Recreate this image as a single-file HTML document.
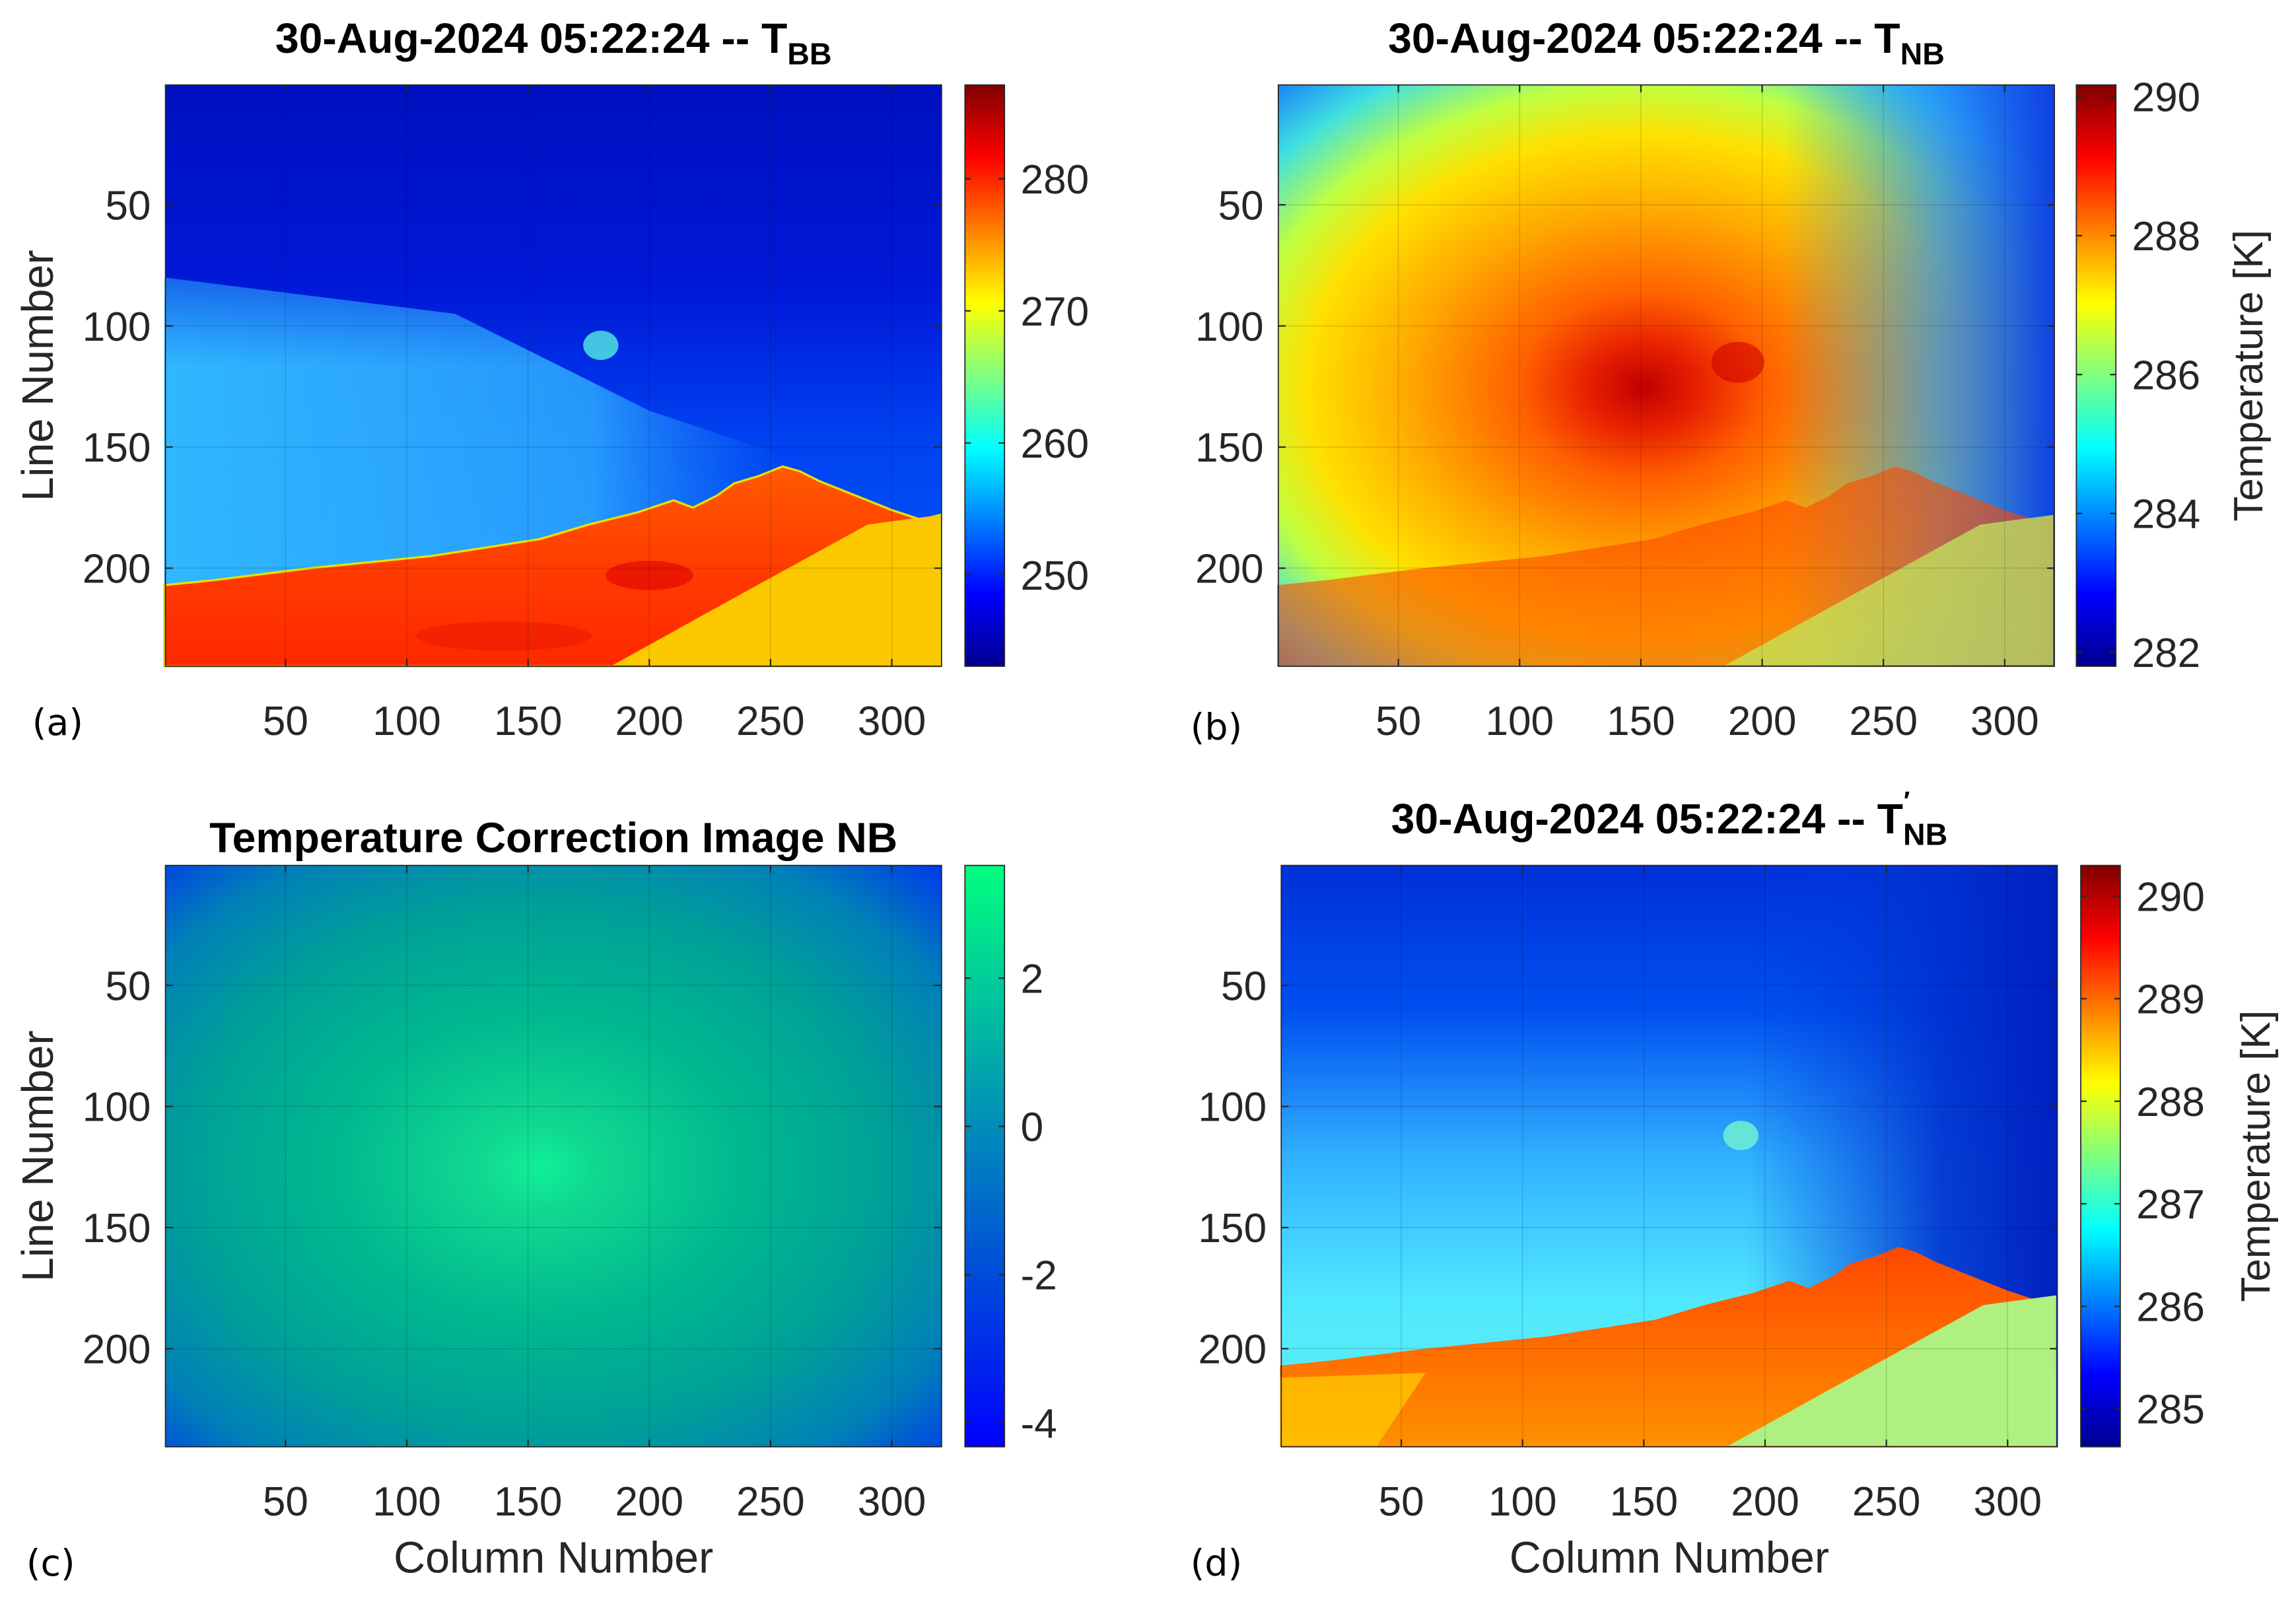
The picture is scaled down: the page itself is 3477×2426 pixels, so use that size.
<!DOCTYPE html>
<html><head><meta charset="utf-8"><style>
html,body{margin:0;padding:0;background:#fff;}
svg{display:block;font-family:"Liberation Sans",Arial,sans-serif;}
</style></head><body>
<svg id="fig" xmlns="http://www.w3.org/2000/svg" width="3477" height="2426" viewBox="0 0 1568 1094" preserveAspectRatio="none">
<defs>
<linearGradient id="jet" x1="0" y1="1" x2="0" y2="0">
<stop offset="0" stop-color="#00008f"/><stop offset="0.125" stop-color="#0000ff"/><stop offset="0.375" stop-color="#00ffff"/><stop offset="0.625" stop-color="#ffff00"/><stop offset="0.875" stop-color="#ff0000"/><stop offset="1" stop-color="#800000"/>
</linearGradient>
<linearGradient id="winter" x1="0" y1="1" x2="0" y2="0"><stop offset="0" stop-color="#0000ff"/><stop offset="1" stop-color="#00ff80"/></linearGradient>
<linearGradient id="skyA" x1="0" y1="0" x2="0" y2="1"><stop offset="0" stop-color="#0010c0"/><stop offset="0.35" stop-color="#0018d8"/><stop offset="0.6" stop-color="#0040f0"/><stop offset="1" stop-color="#0060ff"/></linearGradient>
<linearGradient id="bandA" x1="0" y1="0" x2="1" y2="0"><stop offset="0" stop-color="#30b8ff" stop-opacity="1"/><stop offset="0.55" stop-color="#30b0ff" stop-opacity="0.8"/><stop offset="0.8" stop-color="#2090ff" stop-opacity="0"/></linearGradient>
<linearGradient id="bandAv" x1="0" y1="0" x2="0" y2="1"><stop offset="0" stop-color="#fff" stop-opacity="0"/><stop offset="0.4" stop-color="#fff" stop-opacity="1"/><stop offset="1" stop-color="#fff" stop-opacity="1"/></linearGradient>
<mask id="fadeA"><rect x="0" y="130" width="700" height="300" fill="url(#bandAv)"/></mask>
<linearGradient id="volA" x1="0" y1="0" x2="0" y2="1"><stop offset="0" stop-color="#ff5a00"/><stop offset="0.5" stop-color="#ff3c00"/><stop offset="1" stop-color="#ff2800"/></linearGradient>
<radialGradient id="radB" cx="0.47" cy="0.52" r="0.72" fx="0.47" fy="0.52">
<stop offset="0" stop-color="#c00000"/><stop offset="0.1" stop-color="#e82000"/><stop offset="0.22" stop-color="#ff6000"/><stop offset="0.42" stop-color="#ffa800"/><stop offset="0.6" stop-color="#ffe000"/><stop offset="0.72" stop-color="#c0ff40"/><stop offset="0.85" stop-color="#40e0e0"/><stop offset="1" stop-color="#1070ff"/>
</radialGradient>
<linearGradient id="rightB" x1="0" y1="0" x2="1" y2="0"><stop offset="0.65" stop-color="#2080ff" stop-opacity="0"/><stop offset="0.85" stop-color="#2080ff" stop-opacity="0.7"/><stop offset="1" stop-color="#1040e0" stop-opacity="1"/></linearGradient>
<radialGradient id="radC" cx="0.48" cy="0.52" r="0.75">
<stop offset="0" stop-color="#10f09a"/><stop offset="0.1" stop-color="#10d890"/><stop offset="0.35" stop-color="#00b890"/><stop offset="0.6" stop-color="#00a098"/><stop offset="0.8" stop-color="#0080b8"/><stop offset="1" stop-color="#0030f0"/>
</radialGradient>
<linearGradient id="skyD" x1="0" y1="0" x2="0" y2="1"><stop offset="0" stop-color="#0030d8"/><stop offset="0.25" stop-color="#0050f0"/><stop offset="0.5" stop-color="#30b0ff"/><stop offset="0.75" stop-color="#50e8ff"/><stop offset="1" stop-color="#60f0f0"/></linearGradient>
<linearGradient id="rightD" x1="0" y1="0" x2="1" y2="0"><stop offset="0.6" stop-color="#0040e0" stop-opacity="0"/><stop offset="0.85" stop-color="#0030d0" stop-opacity="0.9"/><stop offset="1" stop-color="#0020c0" stop-opacity="1"/></linearGradient>
<linearGradient id="volD" x1="0" y1="0" x2="0" y2="1"><stop offset="0" stop-color="#ff4800"/><stop offset="1" stop-color="#ff9000"/></linearGradient>
</defs>
<g id="root"></g>
</svg>
<script>
// ---- data ----
const xTicks = [50,100,150,200,250,300];
const yTicks = [50,100,150,200];
const cbA = [250,260,270,280];
const cbARange = [243.1,287.1];
const cbB = [282,284,286,288,290];
const cbBRange = [281.8,290.17];
const cbC = [-4,-2,0,2];
const cbCRange = [-4.32,3.52];
const cbD = [285,286,287,288,289,290];
const cbDRange = [284.63,290.3];
// volcano outline (column, line)
const ridgeCols = [0,20,60,110,155,175,195,210,218,228,235,245,255,262,270,285,300,312,320];
const ridgeLines = [207,205,200,195,188,182,177,172,175,170,165,162,158,160,164,170,176,180,178];
const slopeCols = [320,290,230,185,320];
const slopeLines = [178,182,215,240,240];

const NS="http://www.w3.org/2000/svg";
const root=document.getElementById('root');
function el(tag,attrs,parent){const e=document.createElementNS(NS,tag);for(const k in attrs)e.setAttribute(k,attrs[k]);(parent||root).appendChild(e);return e;}
function txt(s,attrs,parent){const e=el('text',attrs,parent);e.textContent=s;return e;}

const panels=[
 {id:'a',x:113,y:58,cb:659,ticks:cbA,range:cbARange,grad:'jet',title:'30-Aug-2024 05:22:24 -- T',sub:'BB',tx:378,ty:36,lab:'(a)',lx:22,ly:502,ylab:true,xlab:false},
 {id:'b',x:873,y:58,cb:1418,ticks:cbB,range:cbBRange,grad:'jet',title:'30-Aug-2024 05:22:24 -- T',sub:'NB',tx:1138,ty:36,lab:'(b)',lx:813,ly:505,ylab:false,xlab:false,clab:1535},
 {id:'c',x:113,y:591,cb:659,ticks:cbC,range:cbCRange,grad:'winter',title:'Temperature Correction Image NB',sub:'',tx:378,ty:582,lab:'(c)',lx:18,ly:1076,ylab:true,xlab:true},
 {id:'d',x:875,y:591,cb:1421,ticks:cbD,range:cbDRange,grad:'jet',title:"30-Aug-2024 05:22:24 -- T",sub:'NB',prime:true,tx:1140,ty:569,lab:'(d)',lx:813,ly:1076,ylab:false,xlab:true,clab:1540}
];
const W=530,H=397;
panels.forEach(p=>{
 const g=el('g',{});
 
 
 const sx=c=>p.x+(c-0.5)/320*W, sy=l=>p.y+(l-0.5)/240*H;
 const img=el('g',{},g);
 
 
 const ridge=()=>{let s=ridgeCols.map((c,i)=>sx(c)+','+sy(ridgeLines[i])).join(' ');return s+' '+sx(320)+','+(p.y+H)+' '+sx(0)+','+(p.y+H);};
 const slope=()=>slopeCols.map((c,i)=>sx(c)+','+sy(slopeLines[i])).join(' ');
 if(p.id==='a'){
  el('rect',{x:p.x,y:p.y,width:W,height:H,fill:'url(#skyA)'},img);
  el('polygon',{points:[sx(0),sy(80),sx(120),sy(95),sx(200),sy(135),sx(290),sy(165),sx(320),sy(178),sx(0),sy(215)].join(' '),fill:'url(#bandA)',mask:'url(#fadeA)'},img);
  el('ellipse',{cx:sx(180),cy:sy(108),rx:12,ry:10,fill:'#50e0e0',opacity:0.85},img);
  el('polygon',{points:ridge(),fill:'url(#volA)',stroke:'#e8e000','stroke-width':1.5},img);
  el('polygon',{points:slope(),fill:'#fcc800'},img);
  el('ellipse',{cx:sx(200),cy:sy(203),rx:30,ry:10,fill:'#e00000',opacity:0.6},img);
  el('ellipse',{cx:sx(140),cy:sy(228),rx:60,ry:10,fill:'#e01000',opacity:0.4},img);
 } else if(p.id==='b'){
  el('rect',{x:p.x,y:p.y,width:W,height:H,fill:'url(#radB)'},img);
  el('rect',{x:p.x,y:p.y,width:W,height:H,fill:'url(#rightB)'},img);
  el('ellipse',{cx:sx(190),cy:sy(115),rx:18,ry:14,fill:'#d00000',opacity:0.6},img);
  el('polygon',{points:ridge(),fill:'#ff4800',opacity:0.6},img);
  el('polygon',{points:slope(),fill:'#c0f060',opacity:0.7},img);
 } else if(p.id==='c'){
  el('rect',{x:p.x,y:p.y,width:W,height:H,fill:'url(#radC)'},img);
 } else {
  el('rect',{x:p.x,y:p.y,width:W,height:H,fill:'url(#skyD)'},img);
  el('rect',{x:p.x,y:p.y,width:W,height:H,fill:'url(#rightD)'},img);
  el('ellipse',{cx:sx(190),cy:sy(112),rx:12,ry:10,fill:'#70f0d0',opacity:0.85},img);
  el('polygon',{points:ridge(),fill:'url(#volD)'},img);
  el('polygon',{points:[sx(0),sy(212),sx(60),sy(210),sx(40),sy(240),sx(0),sy(240)].join(' '),fill:'#ffd000',opacity:0.7},img);
  el('polygon',{points:slope(),fill:'#b0f080'},img);
 }
 // grid
 xTicks.forEach(t=>{el('line',{x1:sx(t),x2:sx(t),y1:p.y,y2:p.y+H,stroke:'#000','stroke-opacity':0.12,'stroke-width':0.8},g);});
 yTicks.forEach(t=>{el('line',{x1:p.x,x2:p.x+W,y1:sy(t),y2:sy(t),stroke:'#000','stroke-opacity':0.12,'stroke-width':0.8},g);});
 // ticks and labels
 xTicks.forEach(t=>{
  el('line',{x1:sx(t),x2:sx(t),y1:p.y+H,y2:p.y+H-5,stroke:'#262626','stroke-width':1},g);
  el('line',{x1:sx(t),x2:sx(t),y1:p.y,y2:p.y+5,stroke:'#262626','stroke-width':1},g);
  const lbl=txt(String(t),{x:sx(t),y:p.y+H+47,'font-size':28,'text-anchor':'middle',fill:'#262626'},g);
  
  
 });
 yTicks.forEach(t=>{
  el('line',{x1:p.x,x2:p.x+5,y1:sy(t),y2:sy(t),stroke:'#262626','stroke-width':1},g);
  el('line',{x1:p.x+W,x2:p.x+W-5,y1:sy(t),y2:sy(t),stroke:'#262626','stroke-width':1},g);
  const lbl=txt(String(t),{x:p.x-10,y:sy(t)+10,'font-size':28,'text-anchor':'end',fill:'#262626'},g);
  
  
 });
 el('rect',{x:p.x,y:p.y,width:W,height:H,fill:'none',stroke:'#262626','stroke-width':0.8},g);
 // colorbar
 const cb=el('g',{},g);
 
 
 el('rect',{x:p.cb,y:p.y,width:27,height:H,fill:'url(#'+p.grad+')',stroke:'#262626','stroke-width':0.8},cb);
 const cy=v=>p.y+H-(v-p.range[0])/(p.range[1]-p.range[0])*H;
 p.ticks.forEach(t=>{
  el('line',{x1:p.cb+27,x2:p.cb+23,y1:cy(t),y2:cy(t),stroke:'#262626','stroke-width':1},cb);
  el('line',{x1:p.cb,x2:p.cb+4,y1:cy(t),y2:cy(t),stroke:'#262626','stroke-width':1},cb);
  const lbl=txt(String(t),{x:p.cb+38,y:cy(t)+10,'font-size':28,fill:'#262626'},cb);
  
  
 });
 if(p.clab){
  const c=txt('Temperature [K]',{x:0,y:0,'font-size':28,'text-anchor':'middle',fill:'#262626',transform:'translate('+(p.clab+10)+','+(p.y+H/2)+') rotate(-90)'},g);
  
  
 }
 // title
 const t=txt(p.title,{x:p.tx,y:p.ty,'font-size':29,'font-weight':'bold','text-anchor':'middle',fill:'#000'},g);
 
 
 if(p.sub){
  const ts=el('tspan',{'font-size':21,dy:8},t); ts.textContent=p.sub;
  if(p.prime){const pr=el('tspan',{'font-size':18,dy:-24,dx:-30},t);pr.textContent='′';}
 }
 const l=txt(p.lab,{x:p.lx,y:p.ly,'font-size':25,fill:'#000','font-family':'"DejaVu Sans",sans-serif'},g);
 
 
 if(p.ylab){
  const yl=txt('Line Number',{x:0,y:0,'font-size':30,'text-anchor':'middle',fill:'#262626',transform:'translate(36,'+(p.y+H/2)+') rotate(-90)'},g);
  
  
 }
 if(p.xlab){
  const xl=txt('Column Number',{x:p.x+W/2,y:1074,'font-size':30,'text-anchor':'middle',fill:'#262626'},g);
  
  
 }
});
</script>
</body></html>
